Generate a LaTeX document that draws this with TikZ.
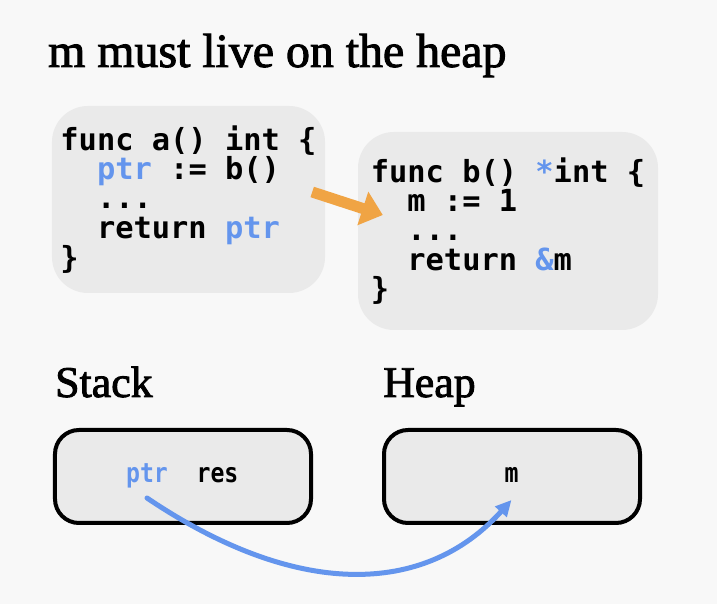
\documentclass[tikz,border=0pt]{standalone}
\usepackage{fontspec}
\setmainfont{Liberation Serif}
\newfontfamily\headfont{Liberation Serif}[FakeBold=2]
\newfontfamily\codefont{DejaVu Sans Mono}
\newfontfamily\varfont{DejaVu Sans Mono}[FakeStretch=0.86]
\usetikzlibrary{calc,arrows.meta}
\definecolor{bg}{HTML}{F8F8F8}
\definecolor{boxgray}{HTML}{EAEAEA}
\definecolor{ptrblue}{HTML}{6495ED}
\definecolor{arrorange}{HTML}{F0A444}
\newcommand{\hl}[1]{\textcolor{ptrblue}{#1}}

\begin{document}
\begin{tikzpicture}[x=1bp,y=1bp,
 code/.style={fill=boxgray,rounded corners=36bp,inner sep=0,align=left,font=\codefont\bfseries\fontsize{30.5}{29.5}\selectfont},
 mem/.style={draw,line width=4bp,fill=boxgray,rounded corners=24bp,minimum width=256bp,minimum height=93bp},
 lbl/.style={anchor=base west,inner sep=0,font=\headfont\fontsize{44}{48}\selectfont},
 var/.style={anchor=base,inner sep=0,font=\varfont\bfseries\fontsize{27}{29}\selectfont}]
 \fill[bg] (0,0) rectangle (717,604); \useasboundingbox (0,0) rectangle (717,604);
 \node[anchor=base west,inner sep=0,font=\headfont\fontsize{48}{52}\selectfont] (title) at (48,537) {m must live on the heap};
 \node[code,minimum width=273bp,minimum height=187bp] (funcA) at (188.5,404.5) {func a() int \{\\\ \ \hl{ptr} := b()\\\ \ ...\\\ \ return \hl{ptr}\\\}};
 \node[code,minimum width=300bp,minimum height=198bp] (funcB) at (508,373) {func b() \hl{*}int \{\\\ \ m := 1\\\ \ ...\\\ \ return \hl{\&}m\\\}};
 \draw[arrorange,line width=11bp,-{Triangle[length=21bp,width=34bp]}] ($(funcA.east)+(-13,7.5)$) -- ($(funcB.west)+(25,16)$);
 \node[lbl] (stacklbl) at (55,207) {Stack}; \node[lbl] (heaplbl) at (383,207) {Heap};
 \node[mem] (stack) at (183,127.5) {}; \node[mem] (heap) at (512,127.5) {};
 \node[var,text=ptrblue] (ptr) at (147,121) {ptr}; \node[var] (res) at (217.5,121) {res}; \node[var] (m) at (511.5,121) {m};
 \draw[ptrblue,line width=5bp,line cap=round,-{Triangle[length=16bp,width=15bp]}] ($(ptr.base)+(0,-15)$) .. controls +(-34:180) and +(-132:130) .. ($(m.base)+(0,-17)$);
\end{tikzpicture}
\end{document}
